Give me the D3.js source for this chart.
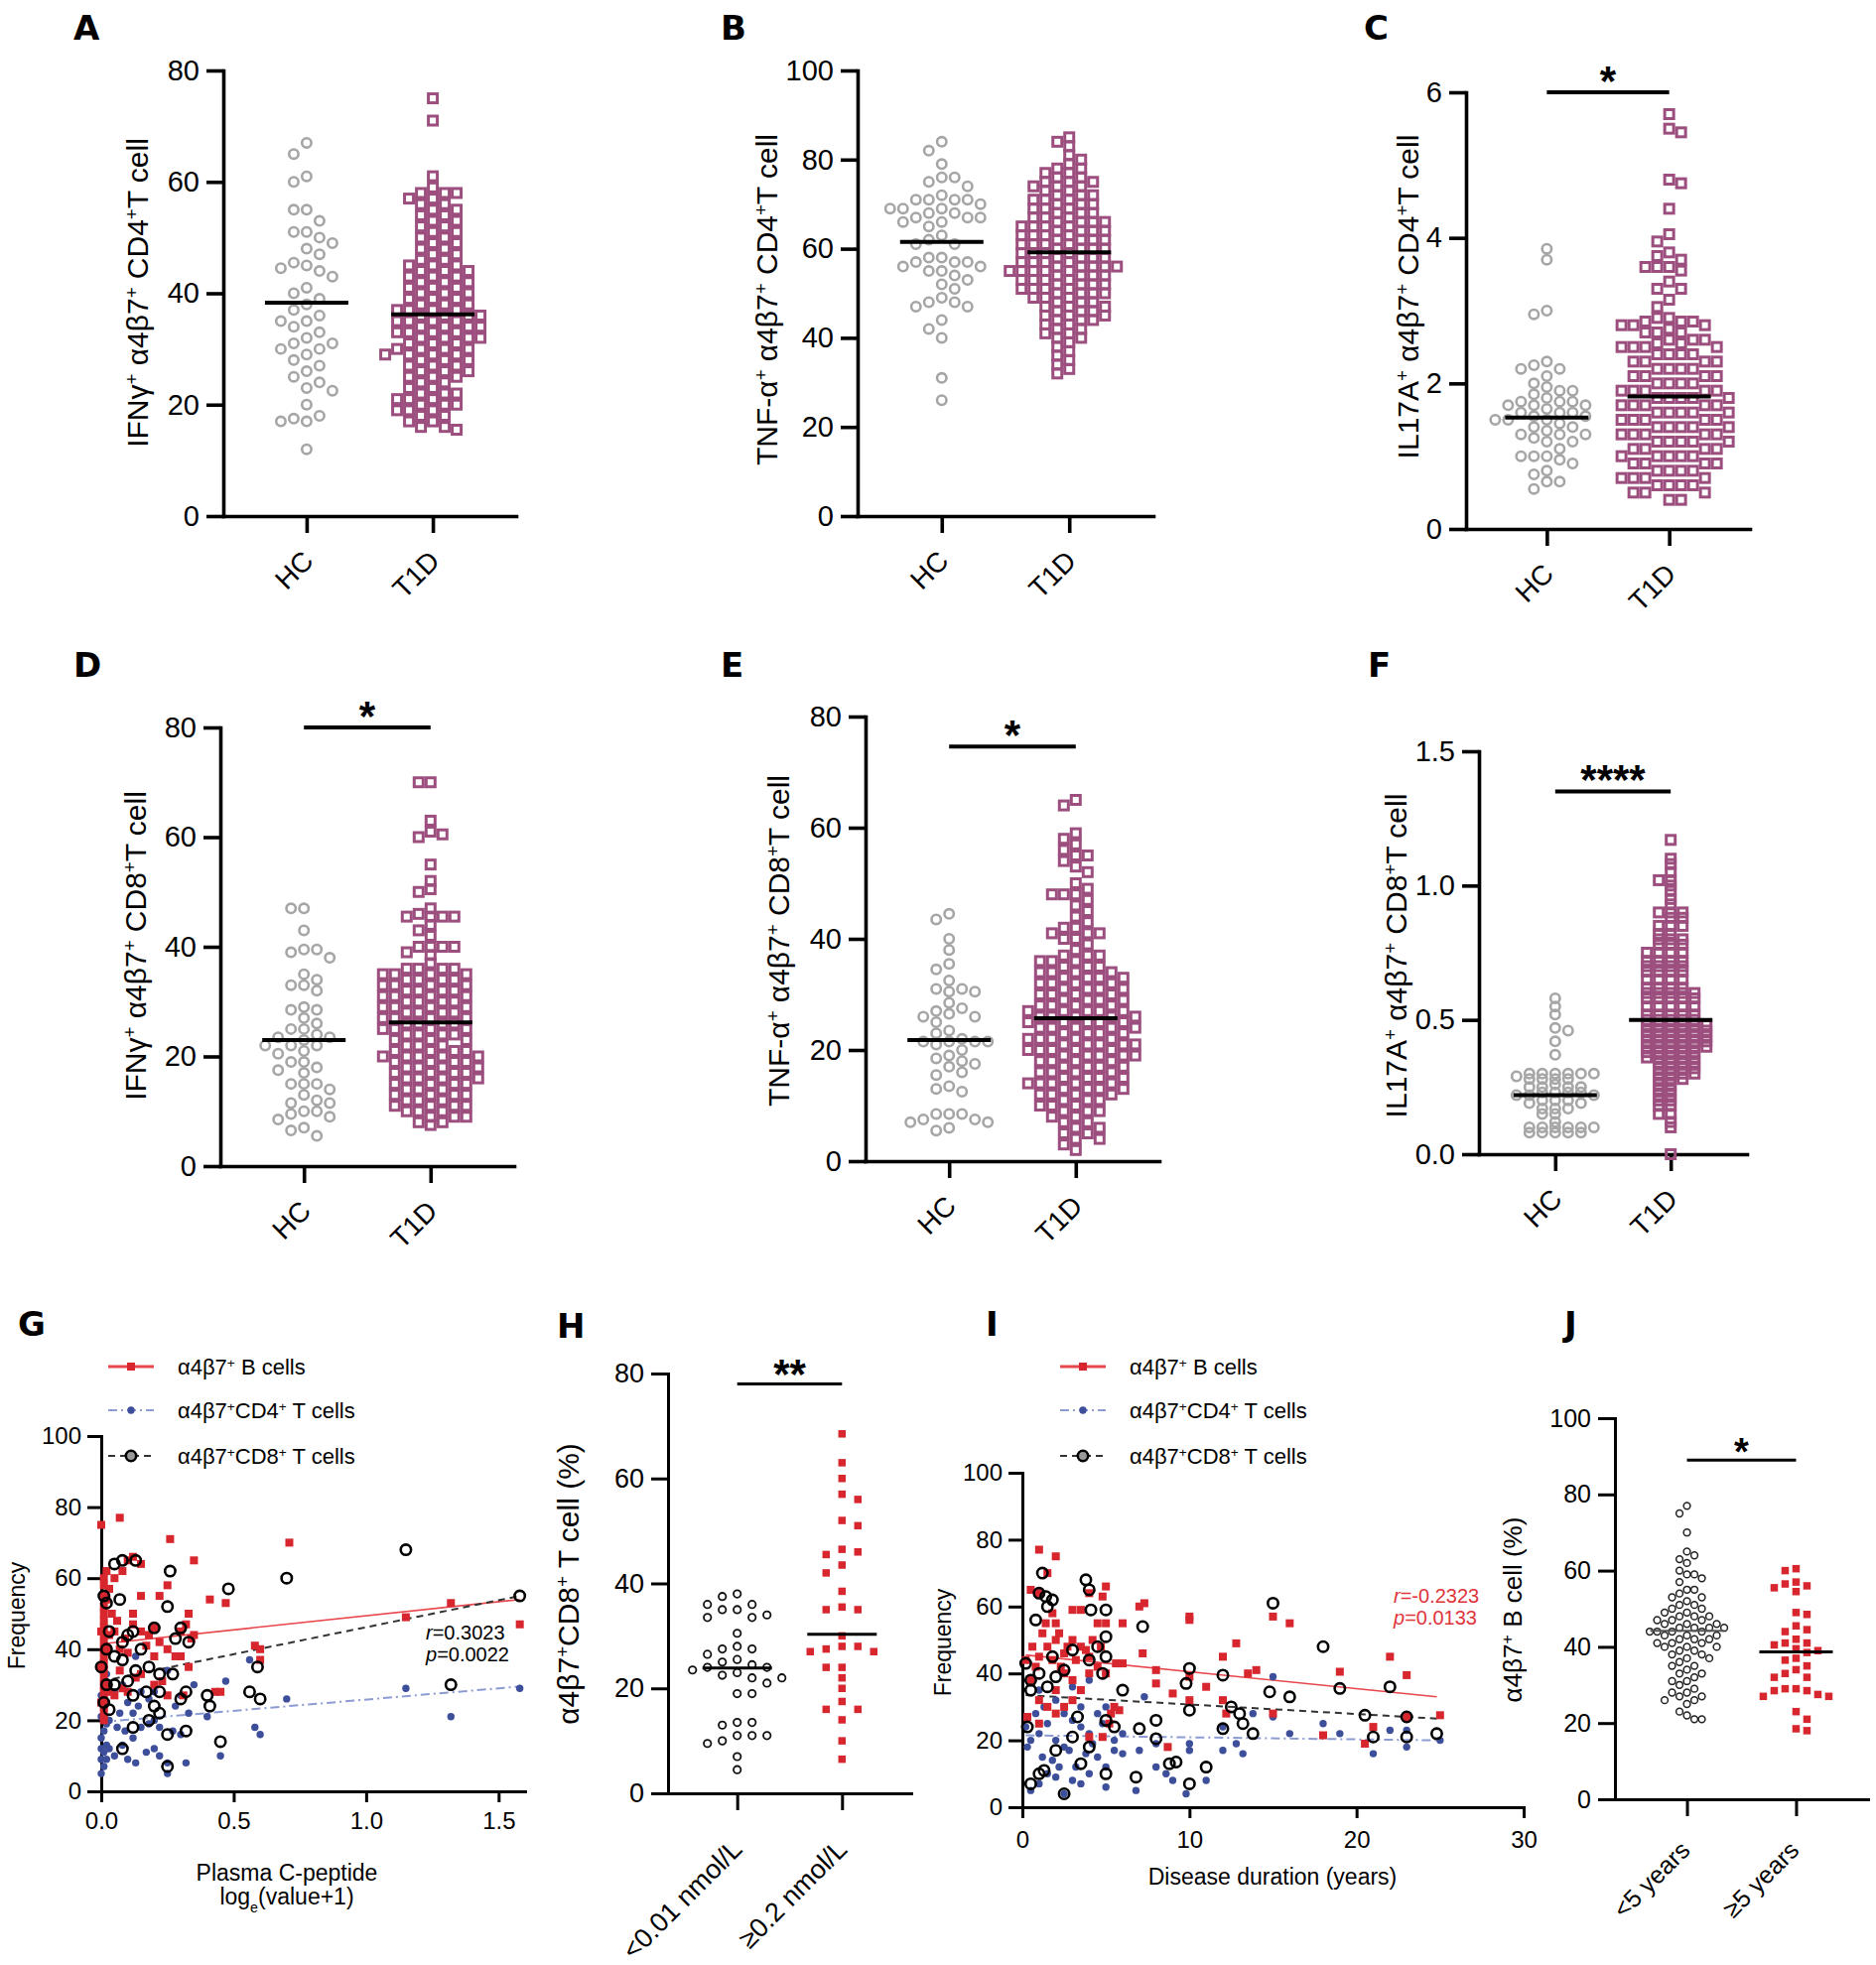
<!DOCTYPE html>
<html>
<head>
<meta charset="utf-8">
<title>alpha4beta7 figure</title>
<script src="https://cdn.jsdelivr.net/npm/d3@7"></script>
<style>
  body { margin: 0; background: #fff; }
  svg text { font-family: "Liberation Sans", Arial, Helvetica, sans-serif; }
  svg text.letter { font-family: "DejaVu Sans", "Liberation Sans", Arial, sans-serif; }
</style>
</head>
<body>
<svg id="fig" width="1890" height="1980"></svg>
<script>
// ---------- categories and tick labels ----------
const catsHC = ["HC", "T1D"];
const catsH = ["<0.01 nmol/L", "≥0.2 nmol/L"];
const catsJ = ["<5 years", "≥5 years"];
const ticks80 = [0, 20, 40, 60, 80];
const ticks100 = [0, 20, 40, 60, 80, 100];
const ticksC = [0, 2, 4, 6];
const ticksF = [0, 0.5, 1.0, 1.5];
const ticksGx = [0, 0.5, 1.0, 1.5];
const ticksIx = [0, 10, 20, 30];

// ---------- dot plot values ----------
const aHC = [67,65,61,60,55,55,53,51,51,50,49,48,47,45.5,45,44.5,44,43,41,40,39,38,37,36,35,35,34,33,32,31,31,30,30,29,28,27,26,25,24,23,22.5,20,18,17.5,17,17,12];
const aT1D = [75,71,61,59,58,58,58,57,57,56,56,55,55,54,54,53,53,52,52,51,51,50,50,49,49,48,48,47,47,46,46,45,45,45,44,44,44,43,43,43,42,42,42,41,41,41,40,40,40,39,39,39,38,38,38,37,37,37,37,36,36,36,36,35,35,35,35,34,34,34,34,33,33,33,33,32,32,32,32,31,31,31,30,30,30,30,29,29,29,29,28,28,28,27,27,27,26,26,26,25,25,25,24,24,23,23,22,22,22,21,21,21,20,20,20,19,19,19,18,18,17,17,16,16,15.5];
const bHC = [84,82,79,76,76,75,74,72,71,71,71,71,70,69,69,69,68,68,67,67,67,66,66,65,63,62,61,61,58,58,57,57,57,56,56,55,55,54,53,52,51,49,48,48,47,47,44,42,40,31,26];
const bT1D = [85,84,83,81,80,79,78,78,77,77,76,76,75,75,75,74,74,74,73,73,72,72,72,71,71,71,70,70,70,69,69,69,68,68,68,67,67,67,66,66,66,66,65,65,65,65,64,64,64,64,63,63,63,63,62,62,62,62,61,61,61,61,60,60,60,60,59,59,59,59,58,58,58,58,57,57,57,57,56,56,56,56,56,55,55,55,55,55,54,54,54,54,53,53,53,53,52,52,52,52,51,51,51,51,50,50,50,50,49,49,49,48,48,48,47,47,47,46,46,46,45,45,45,44,44,44,43,43,42,42,41,41,40,40,39,38,37,36,35,34,33,32];
const cHC = [3.85,3.7,3.0,2.95,2.3,2.25,2.2,2.2,2.1,2.0,1.95,1.9,1.9,1.85,1.8,1.75,1.75,1.75,1.7,1.7,1.7,1.65,1.6,1.6,1.6,1.55,1.55,1.5,1.5,1.5,1.45,1.4,1.4,1.35,1.3,1.3,1.3,1.25,1.2,1.2,1.1,1.0,1.0,1.0,0.95,0.9,0.8,0.75,0.65,0.65,0.55];
const cT1D = [5.7,5.5,5.45,4.8,4.75,4.4,4.05,3.95,3.8,3.75,3.7,3.6,3.6,3.6,3.55,3.4,3.3,3.3,3.15,3.05,2.9,2.9,2.85,2.85,2.85,2.8,2.8,2.8,2.75,2.7,2.7,2.7,2.6,2.6,2.6,2.55,2.55,2.5,2.5,2.5,2.5,2.4,2.4,2.4,2.4,2.3,2.3,2.3,2.3,2.2,2.2,2.2,2.2,2.1,2.1,2.1,2.1,2.0,2.0,2.0,2.0,1.9,1.9,1.9,1.9,1.9,1.8,1.8,1.8,1.8,1.8,1.7,1.7,1.7,1.7,1.7,1.6,1.6,1.6,1.6,1.6,1.5,1.5,1.5,1.5,1.5,1.4,1.4,1.4,1.4,1.4,1.3,1.3,1.3,1.3,1.3,1.2,1.2,1.2,1.2,1.2,1.1,1.1,1.1,1.1,1.0,1.0,1.0,1.0,1.0,0.9,0.9,0.9,0.9,0.8,0.8,0.8,0.8,0.7,0.7,0.7,0.7,0.6,0.6,0.6,0.6,0.5,0.5,0.5,0.4,0.4];
const dHC = [47,47,43,39.5,39.5,39,38,35,34,33,33,32,29,28.5,28.5,27,26,25,25,24,23.5,23.5,23,22,22,22,21,20.5,19,19,18,17.5,17,15,15,15,14,13,12,11.5,11.5,10,10,9.5,9,8.5,7,6.5,5.5];
const dT1D = [70,70,63,61,60.5,60,55,52,50.5,50,47,46,45.5,45.5,45.5,45.5,44,43,42,40,40,40,40,39,38.5,37,36,36,36,36,35,35,35,35,34,34,34,34,33,33,33,33,32,32,32,32,31,31,31,31,30,30,30,30,29,29,29,29,28,28,28,28,27,27,27,27,26,26,26,26,25,25,25,25,24,24,24,24,23,23,23,22,22,22,21,21,21,21,20,20,20,20,20,19,19,19,19,18,18,18,18,17,17,17,17,16,16,16,16,15,15,15,15,14,14,14,13,13,13,13,12,12,12,11,11,11,11,10,10,10,9,9,9,8,8,7.5];
const eHC = [44.5,43.5,40,38,35.5,34.5,32.5,31,31,30.5,30.5,28.5,27.5,27,26.5,26,26,25,23.5,23,22,21.5,21.5,21.5,21.5,21,20,19,18.5,18,17.5,17,16,15.5,13.5,13,12.5,8.5,8.5,8.5,7.5,7.5,7,7,6,5.5];
const eT1D = [65,64,59,58,57,56,55,55,54,53,52,50,49,48,48,48,47,46,45,44,43,42,42,41,41,41,40,40,39,38,37,37,37,36,36,36,35,35,35,34,34,34,34,33,33,33,33,32,32,32,32,31,31,31,31,30,30,30,30,29,29,29,29,28,28,28,28,27,27,27,27,27,26,26,26,26,26,25,25,25,25,25,24,24,24,24,24,23,23,23,23,22,22,22,22,22,21,21,21,21,21,20,20,20,20,20,19,19,19,19,19,18,18,18,18,17,17,17,17,16,16,16,16,15,15,15,15,14,14,14,14,14,13,13,13,13,12,12,12,12,11,11,11,10,10,10,9,9,9,8,8,7,7,6,6,5,5,4,4,3,2];
const fHC = [0.58,0.55,0.52,0.47,0.46,0.42,0.37,0.3,0.3,0.3,0.3,0.3,0.3,0.29,0.28,0.28,0.28,0.28,0.26,0.25,0.25,0.25,0.25,0.23,0.23,0.23,0.23,0.22,0.22,0.22,0.2,0.2,0.2,0.19,0.19,0.17,0.17,0.17,0.15,0.15,0.12,0.1,0.1,0.1,0.1,0.1,0.1,0.08,0.08,0.08,0.08,0.08];
const fT1D = [1.17,1.1,1.08,1.05,1.02,1.02,1.0,0.98,0.95,0.93,0.9,0.9,0.9,0.88,0.88,0.85,0.85,0.85,0.82,0.82,0.8,0.8,0.8,0.78,0.78,0.78,0.75,0.75,0.75,0.75,0.72,0.72,0.72,0.72,0.7,0.7,0.7,0.7,0.68,0.68,0.68,0.68,0.65,0.65,0.65,0.65,0.62,0.62,0.62,0.62,0.6,0.6,0.6,0.6,0.6,0.58,0.58,0.58,0.58,0.58,0.55,0.55,0.55,0.55,0.55,0.52,0.52,0.52,0.52,0.52,0.5,0.5,0.5,0.5,0.5,0.48,0.48,0.48,0.48,0.48,0.48,0.46,0.46,0.46,0.46,0.46,0.46,0.44,0.44,0.44,0.44,0.44,0.44,0.42,0.42,0.42,0.42,0.42,0.42,0.4,0.4,0.4,0.4,0.4,0.4,0.38,0.38,0.38,0.38,0.38,0.36,0.36,0.36,0.36,0.36,0.34,0.34,0.34,0.34,0.32,0.32,0.32,0.32,0.3,0.3,0.3,0.3,0.28,0.28,0.28,0.26,0.26,0.24,0.24,0.22,0.22,0.2,0.2,0.18,0.18,0.15,0.15,0.12,0.1,0.0];
const hLow = [38,37.5,36,36,35,35,34,33.5,33.5,30.5,28,27.5,27.5,26.5,25.5,25,24.5,24,24,23.5,23,22.5,22,22,21,19,19,13.5,13.5,13,11,11,11,10,9.5,7,4.5];
const hHigh = [68.5,63,60,57,56,52,51,46.5,46,45.5,43.5,42,38.5,35.5,35,35,30,28,28,27.5,27,27,24,24,22,20,17.5,16,16,14,10,6.5];
const jLt5 = [77,75,70,65,64,63,62,60,59,59,58,57,55,55,54,53,53,52,51,51,50,50,49,49,48,48,48,47,47,47,46,46,46,45,45,45,45,44,44,44,44,43,43,43,42,42,42,41,41,41,40,40,40,39,39,38,38,37,37,36,35,35,34,33,33,32,31,31,30,29,28,28,27,27,26,26,25,23,22,21,21];
const jGe5 = [60.5,60,57,56.5,56,55.5,54.5,49,48.5,45.5,44.5,44,42,41,41,40.5,39.5,39,38.5,37,36.5,35,34,33,32,32,29,29,28.5,28.5,27.5,27,27,23,21,18.5,18];

// medians
const medA = [38.3, 36.2];
const medB = [61.5, 59.2];
const medC = [1.53, 1.82];
const medD = [23.0, 26.2];
const medE = [21.8, 25.7];
const medF = [0.22, 0.50];
const medH = [23.9, 30.3];
const medJ = [44.2, 38.7];

// ---------- correlation panels: [x, y] ----------
const gB = [[0.01,20],[0.01,22],[0.01,24],[0.01,26],[0.01,28],[0.01,30],[0.01,32],[0.01,34],[0.01,36],[0.01,38],[0.01,40],[0.01,42],[0.01,44],[0.01,46],[0.01,48],[0.01,50],[0.01,52],[0.01,55],[0.01,58],[0.01,60],[0.0,25],[0.0,35],[0.0,45],[0.0,75],[0.02,30],[0.02,40],[0.02,54],[0.02,62],[0.03,28],[0.03,44],[0.03,57],
  [0.05,60],[0.07,77],[0.08,62],[0.1,65],[0.12,66],[0.15,64],[0.15,55],[0.22,55],[0.25,58],[0.26,71],[0.35,65],[0.41,54],[0.47,53],[0.58,41],[0.6,40],[0.6,37],[0.71,70],[0.33,50],[0.32,47],[0.3,45],[0.12,50],[0.12,47],[0.15,45],[0.18,44],[0.2,46],[0.22,42],[0.25,40],[0.28,38],[0.3,38],[0.33,35],[0.35,44],[0.34,43],[0.43,28],[0.45,28],[0.25,27],[0.31,27],[0.1,39],[0.07,34],[0.13,32],[0.15,33],[0.2,30],[0.1,28],[0.05,27],[0.08,29],[1.15,49],[1.32,53],[1.58,47],[0.05,45],[0.07,40],[0.09,43],[0.04,50],[0.06,48],[0.17,41],[0.2,38],[0.23,31]];
const gCD4 = [[0.0,5],[0.01,7],[0.0,9],[0.01,11],[0.02,13],[0.0,15],[0.01,17],[0.02,19],[0.0,21],[0.01,23],[0.02,25],[0.0,27],[0.01,30],[0.02,33],[0.01,35],[0.02,9],[0.0,12],
  [0.03,12],[0.05,10],[0.08,13],[0.1,9],[0.13,8],[0.17,11],[0.2,12],[0.22,10],[0.25,5],[0.25,8],[0.32,8],[0.45,10],[0.4,21],[0.47,31],[0.35,30],[0.3,27],[0.25,34],[0.2,20],[0.15,18],[0.12,22],[0.1,25],[0.08,30],[0.05,28],[0.15,28],[0.22,18],[0.27,17],[0.33,22],[0.3,16],[0.58,18],[0.6,16],[0.56,37],[0.7,26],[1.15,29],[1.32,21],[1.58,29],[0.13,38],[0.18,26],[0.03,20],[0.06,18],[0.12,15],[0.07,22],[0.09,17],[0.2,28],[0.28,24],[0.18,19],[0.14,24]];
const gCD8 = [[0.01,55],[0.02,53],[0.05,64],[0.08,65],[0.13,65],[0.26,62],[0.07,54],[0.12,45],[0.1,44],[0.08,42],[0.2,46],[0.25,52],[0.3,46],[0.33,42],[0.05,38],[0.08,37],[0.13,34],[0.18,35],[0.22,33],[0.27,33],[0.17,28],[0.12,27],[0.22,28],[0.3,26],[0.32,28],[0.4,27],[0.41,24],[0.2,24],[0.22,22],[0.25,16],[0.32,17],[0.12,18],[0.08,12],[0.03,23],[0.05,30],[0.45,14],[0.48,57],[0.56,28],[0.6,26],[0.59,35],[0.7,60],[1.15,68],[1.32,30],[1.58,55],[0.25,7],[0.02,40],[0.02,30],[0.03,45],[0.0,35],[0.01,25],[0.1,31],[0.15,40],[0.28,43],[0.18,20]];
const gFitX = [0, 1.58];
const gFitB = [41.5, 54];
const gFitCD4 = [19.5, 29.5];
const gFitCD8 = [31, 55];
const gStats = ["0.3023", "0.0022"];

const iB = [[1,77],[2,75],[1.5,70],[0.5,65],[1,64],[4,64],[5,66],[4.8,63],[1.8,58],[2,55],[3,59],[3.5,59],[4.5,55],[5,55],[6,55],[7,60],[7.3,61],[7.2,46],[10,57],[10,56],[6,43],[8,41],[8,37],[9,34],[10,39],[10,32],[11,36],[12,45],[12,32],[12.2,28],[12.8,49],[13.5,40],[14,41],[15,57],[15,28],[16,55],[18,21.5],[19,40.5],[20.5,19],[21,24],[22,45],[23,39.5],[23,27],[25,27.5],[8.7,18],[4,21],[4.8,21],[0.3,27],[0.5,38],[1,45],[1.5,48],[2,50],[2.5,46],[3,50],[3.5,48],[4,45],[4.5,42],[5,40],[5.5,30],[5.2,25],[1,32],[1.5,30],[2,35],[2.5,40],[3,38],[3.5,35],[0.8,42],[1.2,52],[1.8,44],[2.3,42],[2.7,48],[3.2,44],[3.8,47],[4.2,50],[4.7,48],[5.3,28],[1,25],[2,28],[2.5,30],[3,32],[0.2,44],[0.6,48],[1.4,55],[2.2,52],[4,40],[5.6,43],[5.8,29]];
const iCD4 = [[0.5,5],[1,7],[1.5,10],[2,9],[2.5,4],[3,8],[3.5,7],[4,10],[5,6],[5,12],[4.5,15],[6,16],[7,17],[6.8,5],[8,12],[8,19],[8.6,10],[9,8],[9.8,4],[10,17],[10,19],[11,8],[12,17],[12,24],[12.8,19],[13.2,16],[13.8,28],[15,39],[15,27],[16,22],[18,25],[19,22],[21,16],[22,23],[23,18],[23,23],[25,20],[7.3,33],[5,40],[4,38],[3,36],[1,35],[0.5,20],[1,22],[1.5,25],[2,20],[2.5,18],[3,26],[3.5,24],[4,22],[4.5,28],[5,30],[5.5,20],[0.3,18],[1.2,15],[1.8,14],[2.2,12],[2.8,17],[3.2,12],[3.8,16],[4.2,19],[4.8,25],[0.8,28],[1.3,30],[2.5,28],[3.5,30],[0.2,24],[2,32],[5.5,17],[6,22]];
const iCD8 = [[1.2,70],[3.8,68],[4,65],[4.1,59],[5,59],[1,64],[1.4,63],[1.8,62],[0.8,56],[1.5,60],[7.2,54],[5,51],[4.5,48],[15,61],[18,48],[10,41.5],[12,39.5],[10,29],[9.8,37],[6,35],[2.5,41],[4,44],[5,45],[14.8,34.5],[16,33],[19,35.5],[22,36],[20.5,27.5],[23,27],[12.5,30],[13,28],[13.2,25],[13.8,22],[12,23.5],[8,26],[8,20.5],[7,23.5],[5.5,24],[5,26],[6.8,9],[8.8,13],[9.2,13.5],[10,7],[11,12],[21,21],[23,21],[24.8,22],[0.5,7],[1,10],[1.3,11],[2,17],[2.5,4],[3.5,13],[4,18],[5,10],[0.2,43],[0.5,38],[0.3,24],[1,40],[1.5,36],[2,39],[3,21],[3.3,27],[0.5,35],[1.8,45],[3,47],[4.8,40]];
const iFitX = [0.2, 24.8];
const iFitB = [45.5, 33];
const iFitCD4 = [21.5, 20];
const iFitCD8 = [33.5, 26.5];
const iStats = ["-0.2323", "0.0133"];

const legendLabels = ["α4β7{+} B cells", "α4β7{+}CD4{+} T cells", "α4β7{+}CD8{+} T cells"];

// ---------- styles ----------
const GRAY = "#a6a6a6", MAUVE = "#9c4f7e", RED = "#d8262e", BLUE = "#3d4e9a";
const svg = d3.select("#fig");

const big = { fs: 29, tfs: 30, xfs: 28, tick: 17, sw: 3.6, medHalf: 42, medW: 4, xlab: [8, 47], star: 42, starGap: 21, letter: 34 };
const small = { fs: 27, tfs: 30, xfs: 27, tick: 17, sw: 3, medHalf: 35, medW: 3, xlab: [6, 58], star: 42, starGap: 19, letter: 34 };
const smallJ = Object.assign({}, small, { fs: 25, tfs: 26, xfs: 25, medHalf: 37, xlab: [4, 53], star: 38, starGap: 17 });

const hcMark = { shape: "circle", r: 4.7, stroke: GRAY, sw: 2.6 };
const t1dMark = { shape: "square", s: 9, stroke: MAUVE, sw: 3 };
const openBlack = { shape: "circle", r: 3.7, stroke: "#111", sw: 1.8 };
const openBlackJ = { shape: "circle", r: 3.4, stroke: "#222", sw: 1.5 };
const redSq = { shape: "square", s: 7.5, fill: RED };

function rich(t, s) {
  s.split(/(\{[^}]*\})/).filter(Boolean).forEach(p => {
    if (p[0] === "{") {
      const inner = p.slice(1, -1), sub = inner[0] === "_";
      t.append("tspan").attr("baseline-shift", sub ? "sub" : "super")
        .attr("font-size", "62%").text(sub ? inner.slice(1) : inner);
    } else {
      t.append("tspan").text(p);
    }
  });
  return t;
}

// simple column beeswarm: points snap to columns gx apart
function swarm(vals, y, cx, gx, gy) {
  const pts = vals.map(v => ({ v, y: y(v) })).sort((a, b) => a.y - b.y);
  const placed = [];
  let flip = 1;
  pts.forEach(p => {
    for (let k = 0; k < 80; k++) {
      const off = k === 0 ? 0 : flip * (k % 2 ? 1 : -1) * Math.ceil(k / 2) * gx;
      const px = cx + off;
      if (!placed.some(q => Math.abs(q.y - p.y) < gy && Math.abs(q.x - px) < gx * 0.99)) {
        p.x = px;
        break;
      }
    }
    flip = -flip;
    placed.push(p);
  });
  return placed;
}

function drawMarks(g, pts, m) {
  if (m.shape === "circle") {
    g.selectAll(null).data(pts).join("circle")
      .attr("cx", d => d.x).attr("cy", d => d.y).attr("r", m.r)
      .attr("fill", m.fill || "none").attr("stroke", m.stroke || "none")
      .attr("stroke-width", m.sw || 0);
  } else {
    g.selectAll(null).data(pts).join("rect")
      .attr("x", d => d.x - m.s / 2).attr("y", d => d.y - m.s / 2)
      .attr("width", m.s).attr("height", m.s)
      .attr("fill", m.fill || "none").attr("stroke", m.stroke || "none")
      .attr("stroke-width", m.sw || 0);
  }
}

function styleAxis(a, sw, fs) {
  a.select(".domain").attr("stroke-width", sw).attr("stroke-linecap", "square");
  a.selectAll(".tick line").attr("stroke-width", sw);
  a.selectAll("text").attr("font-size", fs).attr("fill", "#000");
}

function letter(txt, x, y, fs) {
  svg.append("text").attr("class", "letter").attr("x", x).attr("y", y).attr("font-size", fs)
    .attr("font-weight", "bold").text(txt);
}

const dotPanels = [
  { L: "A", st: big, vals: [aHC, aT1D], med: medA, cats: catsHC, ticks: ticks80, max: 80, fmt: d3.format("d"),
    x0: 225, x1: 520, yTop: 71, yBot: 520, title: "IFNγ{+} α4β7{+} CD4{+}T cell", tx: 149, ty: 295, lx: 74, ly: 40,
    marks: [hcMark, t1dMark], gap: [[13, 16], [12, 9.5]] },
  { L: "B", st: big, vals: [bHC, bT1D], med: medB, cats: catsHC, ticks: ticks100, max: 100, fmt: d3.format("d"),
    x0: 864, x1: 1162, yTop: 71, yBot: 520, title: "TNF-α{+} α4β7{+} CD4{+}T cell", tx: 783, ty: 302, lx: 726, ly: 40,
    marks: [hcMark, t1dMark], gap: [[13, 13], [12, 6.5]] },
  { L: "C", st: big, vals: [cHC, cT1D], med: medC, cats: catsHC, ticks: ticksC, max: 6, fmt: d3.format("d"),
    x0: 1477, x1: 1763, yTop: 93, yBot: 533, title: "IL17A{+} α4β7{+} CD4{+}T cell", tx: 1429, ty: 299, lx: 1374, ly: 40,
    marks: [hcMark, t1dMark], gap: [[13, 7.5], [12, 8]], sig: { v: 6, t: "*" } },
  { L: "D", st: big, vals: [dHC, dT1D], med: medD, cats: catsHC, ticks: ticks80, max: 80, fmt: d3.format("d"),
    x0: 222, x1: 518, yTop: 733, yBot: 1175, title: "IFNγ{+} α4β7{+} CD8{+}T cell", tx: 147, ty: 953, lx: 74, ly: 682,
    marks: [hcMark, t1dMark], gap: [[13, 11], [12, 7]], sig: { v: 80, t: "*" } },
  { L: "E", st: big, vals: [eHC, eT1D], med: medE, cats: catsHC, ticks: ticks80, max: 80, fmt: d3.format("d"),
    x0: 872, x1: 1168, yTop: 722, yBot: 1170, title: "TNF-α{+} α4β7{+} CD8{+}T cell", tx: 795, ty: 948, lx: 726, ly: 682,
    marks: [hcMark, t1dMark], gap: [[13, 11], [12, 7]], sig: { v: 74.6, t: "*" } },
  { L: "F", st: big, vals: [fHC, fT1D], med: medF, cats: catsHC, ticks: ticksF, max: 1.5, fmt: d3.format(".1f"),
    x0: 1490, x1: 1760, yTop: 757, yBot: 1163, title: "IL17A{+} α4β7{+} CD8{+}T cell", tx: 1417, ty: 963, lx: 1378, ly: 682,
    marks: [hcMark, t1dMark], gap: [[13, 5], [12, 4.5]], sig: { v: 1.35, t: "****" } },
  { L: "H", st: small, vals: [hLow, hHigh], med: medH, cats: catsH, ticks: ticks80, max: 80, fmt: d3.format("d"),
    x0: 673, x1: 918, yTop: 1384, yBot: 1807, title: "α4β7{+}CD8{+} T cell (%)", tx: 583, ty: 1596, lx: 561, ly: 1348,
    marks: [openBlack, redSq], gap: [[15, 11], [16, 8]], sig: { v: 78, t: "**" } },
  { L: "J", st: smallJ, vals: [jLt5, jGe5], med: medJ, cats: catsJ, ticks: ticks100, max: 100, fmt: d3.format("d"),
    x0: 1627, x1: 1882, yTop: 1429, yBot: 1813, title: "α4β7{+} B cell (%)", tx: 1533, ty: 1622, lx: 1576, ly: 1346,
    marks: [openBlackJ, redSq], gap: [[7.5, 9.5], [11, 9]], sig: { v: 89, t: "*" }, medColor: ["#555", "#000"], medWidth: [2, 3] }
];

function dotPanel(p) {
  const st = p.st;
  const g = svg.append("g");
  const y = d3.scaleLinear().domain([0, p.max]).range([p.yBot, p.yTop]);
  const x = d3.scalePoint().domain(p.cats).range([p.x0, p.x1]).padding(0.66);

  const ya = g.append("g").attr("transform", `translate(${p.x0},0)`)
    .call(d3.axisLeft(y).tickValues(p.ticks).tickFormat(p.fmt).tickSize(st.tick).tickSizeOuter(0).tickPadding(7));
  styleAxis(ya, st.sw, st.fs);
  const xa = g.append("g").attr("transform", `translate(0,${p.yBot})`)
    .call(d3.axisBottom(x).tickSize(st.tick).tickSizeOuter(0));
  styleAxis(xa, st.sw, st.xfs);
  xa.selectAll(".tick text").attr("y", 0).attr("dy", 0).attr("text-anchor", "end")
    .attr("transform", `translate(${st.xlab[0]},${st.xlab[1]}) rotate(-45)`);

  p.vals.forEach((vals, i) => {
    const pts = swarm(vals, y, x(p.cats[i]), p.gap[i][0], p.gap[i][1]);
    drawMarks(g.append("g"), pts, p.marks[i]);
  });

  g.selectAll(null).data(p.med).join("line")
    .attr("x1", (d, i) => x(p.cats[i]) - st.medHalf).attr("x2", (d, i) => x(p.cats[i]) + st.medHalf)
    .attr("y1", d => y(d)).attr("y2", d => y(d))
    .attr("stroke", (d, i) => p.medColor ? p.medColor[i] : "#000")
    .attr("stroke-width", (d, i) => p.medWidth ? p.medWidth[i] : st.medW);

  if (p.sig) {
    const by = y(p.sig.v);
    g.append("line").attr("x1", x(p.cats[0])).attr("x2", x(p.cats[1]))
      .attr("y1", by).attr("y2", by).attr("stroke", "#000").attr("stroke-width", st.medW);
    g.append("text").attr("x", (x(p.cats[0]) + x(p.cats[1])) / 2)
      .attr("y", by - st.starGap + 0.56 * st.star)
      .attr("text-anchor", "middle").attr("font-size", st.star).attr("font-weight", "bold")
      .text(p.sig.t);
  }

  rich(g.append("text").attr("transform", `translate(${p.tx},${p.ty}) rotate(-90)`)
    .attr("text-anchor", "middle").attr("font-size", st.tfs), p.title);
  letter(p.L, p.lx, p.ly, st.letter);
}

dotPanels.forEach(dotPanel);

// ---------- correlation scatter panels ----------
const seriesStyle = {
  B: { mark: { shape: "square", s: 8, fill: RED }, line: { stroke: "#e8474d", w: 1.6, dash: null }, legW: 3 },
  CD4: { mark: { shape: "circle", r: 3.7, fill: BLUE }, line: { stroke: "#8d9bd3", w: 2, dash: "9,4,2,4" }, legW: 2 },
  CD8: { mark: { shape: "circle", r: 5.2, stroke: "#000", sw: 2.6 }, line: { stroke: "#333", w: 2, dash: "7,5" }, legW: 2 }
};

const scatterPanels = [
  { L: "G", lx: 18, ly: 1346, x0: 102, x1: 529, xdom: [0, 1.6], xticks: ticksGx, xfmt: d3.format(".1f"),
    yTop: 1447, yBot: 1805, data: { B: gB, CD4: gCD4, CD8: gCD8 }, fitX: gFitX,
    fit: { B: gFitB, CD4: gFitCD4, CD8: gFitCD8 }, leg: { x1: 109, x2: 155, tx: 179, rows: [1377, 1421, 1467] },
    xlab: [["Plasma C-peptide", 1895], ["log{_e}(value+1)", 1919]], xlabX: 289, ylab: [25, 1628],
    stats: gStats, statX: 429, statY: [1652, 1674], statColor: "#000", xpad: 10 },
  { L: "I", lx: 993, ly: 1346, x0: 1030, x1: 1535, xdom: [0, 30], xticks: ticksIx, xfmt: d3.format("d"),
    yTop: 1484, yBot: 1821, data: { B: iB, CD4: iCD4, CD8: iCD8 }, fitX: iFitX,
    fit: { B: iFitB, CD4: iFitCD4, CD8: iFitCD8 }, leg: { x1: 1068, x2: 1114, tx: 1138, rows: [1377, 1421, 1467] },
    xlab: [["Disease duration (years)", 1899]], xlabX: 1282, ylab: [958, 1655],
    stats: iStats, statX: 1404, statY: [1615, 1637], statColor: "#e0343c", xpad: 13 }
];

function scatterPanel(p) {
  const g = svg.append("g");
  const x = d3.scaleLinear().domain(p.xdom).range([p.x0, p.x1]);
  const y = d3.scaleLinear().domain([0, 100]).range([p.yBot, p.yTop]);

  const ya = g.append("g").attr("transform", `translate(${p.x0},0)`)
    .call(d3.axisLeft(y).tickValues(ticks100).tickSize(14).tickSizeOuter(0).tickPadding(6));
  styleAxis(ya, 3, 24);
  const xa = g.append("g").attr("transform", `translate(0,${p.yBot})`)
    .call(d3.axisBottom(x).tickValues(p.xticks).tickFormat(p.xfmt).tickSize(11).tickSizeOuter(0).tickPadding(p.xpad));
  styleAxis(xa, 3, 24);

  const order = ["B", "CD4", "CD8"];
  order.forEach(k => {
    const s = seriesStyle[k].line;
    g.append("line")
      .attr("x1", x(p.fitX[0])).attr("x2", x(p.fitX[1]))
      .attr("y1", y(p.fit[k][0])).attr("y2", y(p.fit[k][1]))
      .attr("stroke", s.stroke).attr("stroke-width", s.w).attr("stroke-dasharray", s.dash);
  });
  ["CD4", "B", "CD8"].forEach(k => {
    const pts = p.data[k].map(d => ({ x: x(d[0]), y: y(d[1]) }));
    drawMarks(g.append("g"), pts, seriesStyle[k].mark);
  });

  // legend
  order.forEach((k, i) => {
    const s = seriesStyle[k], ry = p.leg.rows[i], mx = (p.leg.x1 + p.leg.x2) / 2;
    g.append("line").attr("x1", p.leg.x1).attr("x2", p.leg.x2).attr("y1", ry).attr("y2", ry)
      .attr("stroke", s.line.stroke).attr("stroke-width", s.legW).attr("stroke-dasharray", s.line.dash);
    const m = Object.assign({}, s.mark);
    if (k === "CD8") m.fill = "#9a9a9a";
    drawMarks(g.append("g"), [{ x: mx, y: ry }], m);
    rich(g.append("text").attr("x", p.leg.tx).attr("y", ry).attr("dy", "0.36em").attr("font-size", 22),
      legendLabels[i]);
  });

  p.xlab.forEach(([t, yy]) => {
    rich(g.append("text").attr("x", p.xlabX).attr("y", yy).attr("text-anchor", "middle").attr("font-size", 23), t);
  });
  g.append("text").attr("transform", `translate(${p.ylab[0]},${p.ylab[1]}) rotate(-90)`)
    .attr("text-anchor", "middle").attr("font-size", 23).text("Frequency");

  ["r", "p"].forEach((sym, i) => {
    const t = g.append("text").attr("x", p.statX).attr("y", p.statY[i]).attr("font-size", 20)
      .attr("fill", p.statColor);
    t.append("tspan").attr("font-style", "italic").text(sym);
    t.append("tspan").text("=" + p.stats[i]);
  });

  letter(p.L, p.lx, p.ly, 34);
}

scatterPanels.forEach(scatterPanel);
</script>
</body>
</html>
